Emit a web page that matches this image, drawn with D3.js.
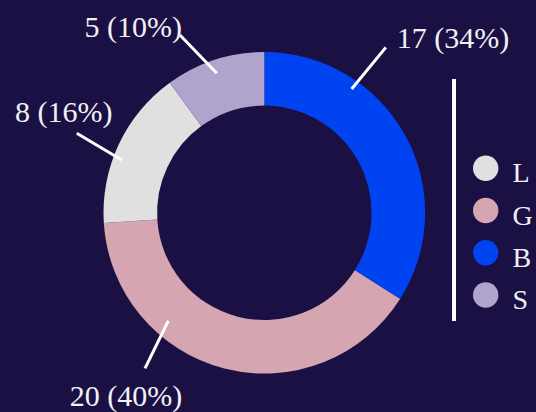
<!DOCTYPE html>
<html>
<head>
<meta charset="utf-8">
<script src="https://cdn.jsdelivr.net/npm/d3@7"></script>
<style>
  html, body { margin: 0; padding: 0; background: #1b1043; }
  svg { display: block; }
  text { font-family: "Liberation Serif", "DejaVu Serif", serif; fill: #f2f0f4; }
</style>
</head>
<body>
<svg id="chart" width="536" height="412"></svg>
<script>
// Slice data, in drawing order (clockwise from 12 o'clock)
const categories = ["B", "G", "L", "S"];
const values = [17, 20, 8, 5];
const colors = ["#0044f1", "#d5a6b2", "#e0e0e0", "#b0a4cd"];
// Legend order
const legendCategories = ["L", "G", "B", "S"];

// Leader-line geometry per slice: [startAngle°, startR, endAngle°, endR] and text placement
const leaders = {
  B: { line: [35.2, 151.5, 36.3, 205.3], dx: 11, dy: 1, anchor: "start" },
  G: { line: [221.6, 144.6, 217.5, 196], dx: -19, dy: 38, anchor: "middle" },
  L: { line: [290.3, 152, 293, 203.7], dx: -13, dy: -11, anchor: "middle" },
  S: { line: [341.2, 147.4, 334.6, 196.8], dx: 2, dy: 1.5, anchor: "end" }
};

const svg = d3.select("#chart");
const cx = 264.3, cy = 212.8;
const outerR = 160.8, innerR = 107.2;

const total = d3.sum(values);
const data = categories.map((c, i) => ({ cat: c, value: values[i], color: colors[i] }));

const pie = d3.pie().sort(null).value(d => d.value);
const arc = d3.arc().innerRadius(innerR).outerRadius(outerR);

const g = svg.append("g").attr("transform", `translate(${cx},${cy})`);

g.selectAll("path.slice")
  .data(pie(data))
  .join("path")
  .attr("class", "slice")
  .attr("d", arc)
  .attr("fill", d => d.data.color);

// polar helper: angle in degrees clockwise from 12 o'clock
const polar = (a, r) => {
  const t = a * Math.PI / 180;
  return [Math.sin(t) * r, -Math.cos(t) * r];
};

const fmt = d3.format(".0%");
data.forEach(d => {
  const L = leaders[d.cat];
  const p0 = polar(L.line[0], L.line[1]);
  const p1 = polar(L.line[2], L.line[3]);
  g.append("line")
    .attr("x1", p0[0]).attr("y1", p0[1])
    .attr("x2", p1[0]).attr("y2", p1[1])
    .attr("stroke", "#ffffff")
    .attr("stroke-width", 3)
    .attr("stroke-linecap", "butt");
  g.append("text")
    .attr("x", p1[0] + L.dx)
    .attr("y", p1[1] + L.dy)
    .attr("text-anchor", L.anchor)
    .attr("font-size", 30)
    .text(`${d.value} (${fmt(d.value / total)})`);
});

// Legend
const legend = svg.append("g");
legend.append("rect")
  .attr("x", 452).attr("y", 79)
  .attr("width", 4).attr("height", 242)
  .attr("fill", "#ffffff");

const legendY = d3.scalePoint()
  .domain(legendCategories)
  .range([168.3, 295]);

const colorOf = d3.scaleOrdinal().domain(categories).range(colors);

const items = legend.selectAll("g.item")
  .data(legendCategories)
  .join("g")
  .attr("class", "item")
  .attr("transform", d => `translate(0,${legendY(d)})`);

items.append("circle")
  .attr("cx", 485.7).attr("cy", 0).attr("r", 12.7)
  .attr("fill", d => colorOf(d));

items.append("text")
  .attr("x", 512.5).attr("y", 14)
  .attr("font-size", 28)
  .text(d => d);
</script>
</body>
</html>
